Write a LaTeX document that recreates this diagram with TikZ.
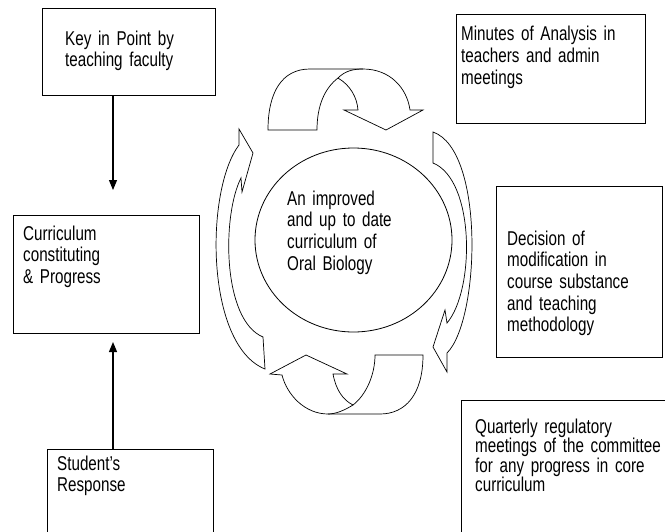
\documentclass[tikz,border=0pt]{standalone}
\usepackage{fontspec}
\setmainfont{Liberation Sans}[FakeStretch=0.76]
\usetikzlibrary{arrows.meta,shapes.geometric}

\begin{document}
\begin{tikzpicture}[x=1pt, y=-1pt,
    box/.style={draw, line width=0.9pt, rectangle, inner sep=0pt, anchor=north west},
    note/.style={anchor=base west, inner sep=0pt, align=left, text width=220pt,
      font=\fontsize{20}{21.7}\selectfont},
    blockarrow/.style={draw, line width=0.7pt, fill=white, line join=miter},
    feed/.style={line width=1.1pt, -{Triangle[length=10pt, width=8pt]}}]
    \path[use as bounding box, clip] (0,0) rectangle (665,531);

    % Boxes round the cycle
    \node[box, minimum width=173pt, minimum height=87pt] (keybox) at (42,8) {};
    \node[box, minimum width=186pt, minimum height=118pt] (curbox) at (13,215) {};
    \node[box, minimum width=166pt, minimum height=96pt] (stubox) at (47,449) {};
    \node[box, minimum width=189pt, minimum height=109pt] (minbox) at (456,14) {};
    \node[box, minimum width=166pt, minimum height=171pt] (decbox) at (496,186) {};
    \node[box, minimum width=219pt, minimum height=145pt] (qbox) at (461,400) {};

    % Box texts
    \node[note] (keytext) at (65,45) {Key in Point by\\teaching faculty};
    \node[note] (curtext) at (23,240) {Curriculum\\constituting\\\& Progress};
    \node[note] (stutext) at (57,470) {Student’s\\Response};
    \node[note] (mintext) at (461,40.7) {Minutes of Analysis in\\teachers and admin\\meetings};
    \node[note] (dectext) at (507,245)
      {Decision of\\modification in\\course substance\\and teaching\\methodology};
    \node[note, font=\fontsize{20}{19.5}\selectfont] (qtext) at (475,433)
      {Quarterly regulatory\\meetings of the committee\\for any progress in core\\curriculum};

    % Core curriculum
    \node[draw, ellipse, line width=0.8pt, minimum width=197pt, minimum height=184pt,
      inner sep=0pt] (core) at (353.5,240) {};
    \node[note] (coretext) at (287,205) {An improved\\and up to date\\curriculum of\\Oral Biology};

    % Feed arrows
    \coordinate (downtip) at (113,190);
    \coordinate (uptip) at (113,342);
    \draw[feed] (keybox.south -| downtip) -- (downtip);
    \draw[feed] (stubox.north -| uptip) -- (uptip);

    % Curved block arrows (top, right, bottom, left)
    \draw[blockarrow]
      (268,130) .. controls (268,92) and (282,69) .. (310,69) -- (363,69)
      .. controls (390,69) and (407,88) .. (410,110) -- (423,110) -- (386,130)
      -- (344,110) -- (358,110) .. controls (357,97) and (350,85) .. (338,78)
      .. controls (325,88) and (317,105) .. (317,130) -- cycle;
    \draw[line width=0.7pt] (338,78) .. controls (345,71) and (353,69) .. (363,69);

    \draw[blockarrow]
      (433,132) .. controls (485,150) and (480,320) .. (447,353) -- (447,372)
      -- (433,347) -- (445,310) -- (447,323)
      .. controls (475,290) and (475,180) .. (433,163) -- cycle;

    \draw[blockarrow]
      (423,355) .. controls (423,395) and (405,414) .. (380,414) -- (328,414)
      .. controls (305,414) and (287,395) .. (282,375) -- (270,374) -- (306,355)
      -- (347,374) -- (333,374) .. controls (336,390) and (343,400) .. (353,405)
      .. controls (366,395) and (375,375) .. (375,355) -- cycle;
    \draw[line width=0.7pt] (353,405) .. controls (345,410) and (336,414) .. (328,414);

    \draw[blockarrow]
      (239,129) -- (253,153) -- (242,192) -- (241,178)
      .. controls (222,215) and (222,320) .. (263,337) -- (265,369)
      .. controls (205,345) and (205,190) .. (239,145) -- cycle;
  \end{tikzpicture}
\end{document}
